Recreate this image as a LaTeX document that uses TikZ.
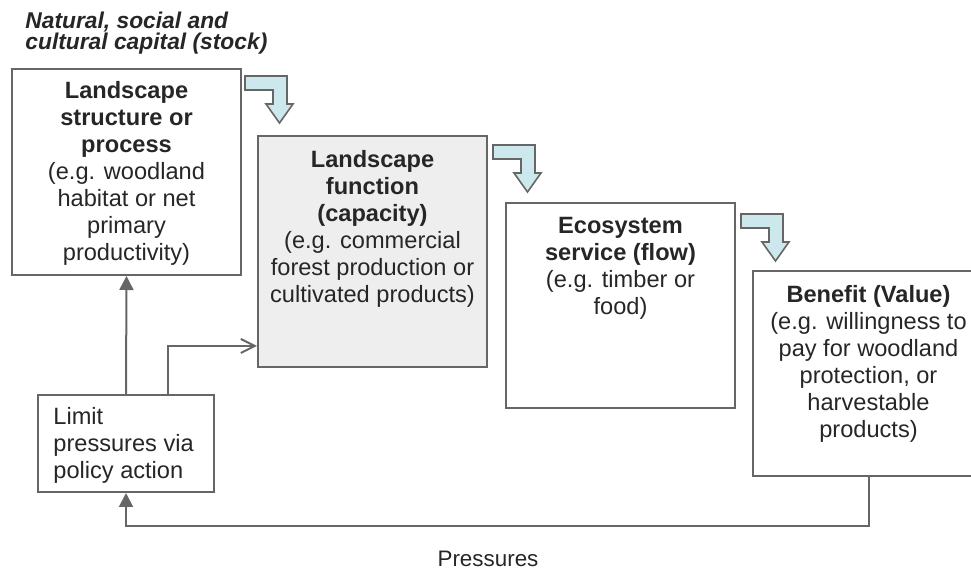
\documentclass[tikz,border=0pt]{standalone}
\usepackage{fontspec}
\setmainfont{Liberation Sans}
\usetikzlibrary{positioning,arrows.meta}

\definecolor{linegray}{HTML}{666666}
\definecolor{textgray}{HTML}{262626}
\definecolor{boxfill}{HTML}{EEEEEE}
\definecolor{arrowfill}{HTML}{CDE8EC}

\tikzset{
  box/.style={draw=linegray, line width=1pt, anchor=north west, minimum width=114.5pt, inner sep=0pt},
  boxtext/.style={inner sep=0pt, align=center, text=textgray, font=\fontsize{11.8}{13.5}\selectfont},
  conn/.style={draw=linegray, line width=1pt},
  blockarrow/.style={fill=arrowfill, draw=linegray, line width=0.8pt, line join=miter},
}

\begin{document}
\begin{tikzpicture}[x=0.5pt, y=-0.5pt]
          \useasboundingbox (0,0) rectangle (971,571);
          \node[boxtext, align=left, anchor=north west, font=\bfseries\itshape\fontsize{11.4}{10.5}\selectfont] (capital) at (25,12) {Natural, social and\\cultural capital (stock)};

          \node[box, minimum height=103pt] (structure) at (11,68) {};
          \node[box, fill=boxfill, minimum height=115.5pt] (function) at (257,135) {};
          \node[box, minimum height=102.5pt] (service) at (505,202) {};
          \node[box, minimum width=115.5pt, minimum height=102.5pt] (benefit) at (752,270) {};
          \node[box, minimum width=88pt, minimum height=48.5pt] (limit) at (37,394) {};

          \node[boxtext, below=6.5pt of structure.north] (structuretxt) {\textbf{Landscape}\\\textbf{structure or}\\\textbf{process}\\(e.g. woodland\\habitat or net\\primary\\productivity)};
          \node[boxtext, below=7.5pt of function.north] (functiontxt) {\textbf{Landscape}\\\textbf{function}\\\textbf{(capacity)}\\(e.g. commercial\\forest production or\\cultivated products)};
          \node[boxtext, below=7.5pt of service.north] (servicetxt) {\textbf{Ecosystem}\\\textbf{service (flow)}\\(e.g. timber or\\food)};
          \node[boxtext, below=7.5pt of benefit.north] (benefittxt) {\textbf{Benefit (Value)}\\(e.g. willingness to\\pay for woodland\\protection, or\\harvestable\\products)};
          \node[boxtext, align=left, below right=6.5pt and 8pt of limit.north west] (limittxt) {Limit\\pressures via\\policy action};

          \foreach \ax/\ay in {245/76, 493/145, 741/214}{
              \filldraw[blockarrow] (\ax,\ay) -- ++(42,0) -- ++(0,28) -- ++(6,0) -- ++(-13.5,19) -- ++(-13.5,-19) -- ++(7,0) -- ++(0,-14) -- ++(-28,0) -- cycle;
          }

          \draw[conn, -{Triangle[length=7pt,width=7pt]}] (limit.north) -- (structure.south);
          \draw[conn, -{Straight Barb[length=7pt,width=7pt]}] ([xshift=21pt]limit.north) |- ([yshift=11pt]function.south west);
          \draw[conn, -{Triangle[length=7pt,width=7pt]}] (benefit.south) -- ++(0,49) -| (limit.south);

          \node[boxtext, font=\fontsize{11.2}{13}\selectfont] (pressures) at (488,559) {Pressures};
      \end{tikzpicture}
\end{document}
